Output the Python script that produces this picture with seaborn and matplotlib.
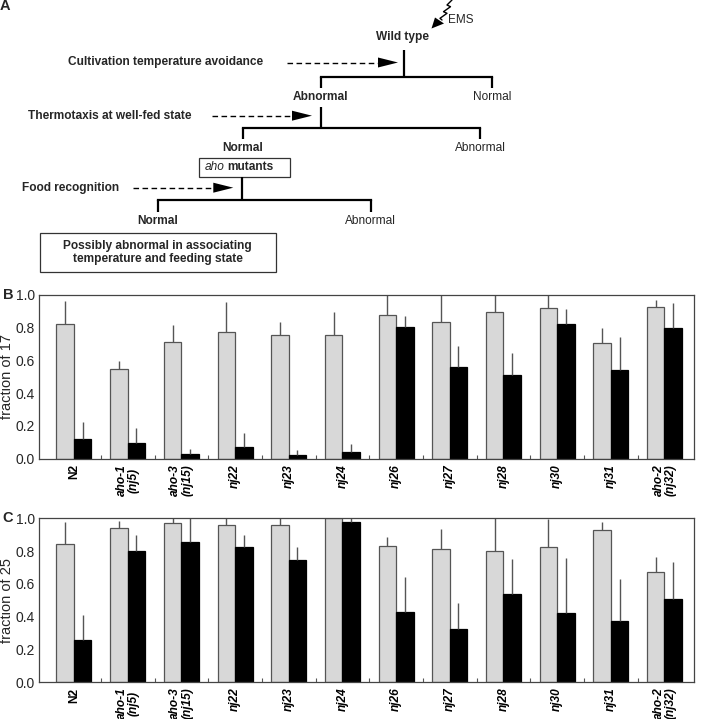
import numpy as np
import pandas as pd
import matplotlib
matplotlib.use("Agg")
import matplotlib.pyplot as plt
import seaborn as sns
from matplotlib.patches import Polygon, Rectangle

# ---------------- data ----------------
strains = ["N2", "aho-1\n(nj5)", "aho-3\n(nj15)", "nj22", "nj23", "nj24",
           "nj26", "nj27", "nj28", "nj30", "nj31", "aho-2\n(nj32)"]
conditions = ["well-fed", "starved"]

b_fed = [0.821, 0.546, 0.711, 0.776, 0.756, 0.756, 0.876, 0.833, 0.894, 0.919, 0.705, 0.927]
b_fed_err = [0.142, 0.051, 0.106, 0.179, 0.079, 0.140, 0.15, 0.18, 0.12, 0.10, 0.091, 0.044]
b_starved = [0.118, 0.094, 0.026, 0.069, 0.020, 0.039, 0.802, 0.558, 0.511, 0.821, 0.540, 0.800]
b_starved_err = [0.104, 0.091, 0.033, 0.088, 0.033, 0.053, 0.070, 0.130, 0.133, 0.093, 0.205, 0.151]

c_fed = [0.841, 0.943, 0.969, 0.961, 0.961, 1.0, 0.829, 0.811, 0.798, 0.823, 0.929, 0.670]
c_fed_err = [0.139, 0.043, 0.06, 0.05, 0.05, 0.0, 0.055, 0.122, 0.21, 0.17, 0.051, 0.096]
c_starved = [0.259, 0.802, 0.855, 0.823, 0.747, 0.980, 0.430, 0.326, 0.538, 0.420, 0.375, 0.507]
c_starved_err = [0.150, 0.096, 0.16, 0.075, 0.080, 0.03, 0.210, 0.159, 0.214, 0.340, 0.252, 0.226]

yticks = [0.0, 0.2, 0.4, 0.6, 0.8, 1.0]

# ---------------- style ----------------
sns.set_theme(style="white")
plt.rcParams["font.family"] = ["Liberation Sans", "DejaVu Sans"]

GRAY = "#d8d8d8"
EDGE = "#555555"
W, H = 702, 719

fig = plt.figure(figsize=(W / 100, H / 100), dpi=100)

# ---------------- panel A (diagram in pixel coords) ----------------
axA = fig.add_axes([0, 0, 1, 1])
axA.set_xlim(0, W)
axA.set_ylim(H, 0)
axA.axis("off")

TLW = 1.6
def tree(xc, ytop, yh, xl, xr, ydrop):
    axA.plot([xc, xc], [ytop, yh], color="black", lw=TLW, solid_capstyle="butt")
    axA.plot([xl, xr], [yh, yh], color="black", lw=TLW, solid_capstyle="projecting")
    axA.plot([xl, xl], [yh, ydrop], color="black", lw=TLW, solid_capstyle="butt")
    axA.plot([xr, xr], [yh, ydrop], color="black", lw=TLW, solid_capstyle="butt")

def dashed_arrow(x0, x1, y):
    hl, hw = 20, 5
    axA.plot([x0, x1 - hl], [y, y], color="black", lw=1.0, ls=(0, (4, 2.5)))
    axA.add_patch(Polygon([[x1 - hl, y - hw], [x1, y], [x1 - hl, y + hw]],
                          closed=True, color="black", lw=0))

FS = 8.6
axA.text(0, 6, "A", fontsize=10.5, fontweight="bold", ha="left", va="center")

# EMS lightning
zx = [452, 447, 450.5, 443.5, 447, 440, 442]
zy = [0, 5, 6.7, 11.7, 13.3, 18.3, 20]
axA.plot(zx, zy, color="black", lw=1.0)
axA.add_patch(Polygon([[431.5, 28.5], [435, 17.5], [444, 23.5]], closed=True,
                      color="black", lw=0))
axA.text(448, 20, "EMS", fontsize=8.5, ha="left", va="center")

axA.text(403, 37, "Wild type", fontsize=FS, fontweight="bold", ha="center", va="center")
tree(404, 50, 77, 321, 491.5, 88)
axA.text(166, 62.5, "Cultivation temperature avoidance", fontsize=FS, fontweight="bold",
         ha="center", va="center")
dashed_arrow(287, 398, 62.5)
axA.text(320, 97, "Abnormal", fontsize=FS, fontweight="bold", ha="center", va="center")
axA.text(492, 97, "Normal", fontsize=FS, ha="center", va="center")

tree(321, 107, 128, 242.5, 480, 139)
axA.text(109.5, 115.7, "Thermotaxis at well-fed state", fontsize=FS, fontweight="bold",
         ha="center", va="center")
dashed_arrow(212, 312, 115.7)
axA.text(242.5, 147.7, "Normal", fontsize=FS, fontweight="bold", ha="center", va="center")
axA.text(480, 147.7, "Abnormal", fontsize=FS, ha="center", va="center")

axA.add_patch(Rectangle((198.5, 157.7), 91, 19.3, fill=False, ec="#333333", lw=0.9))
axA.text(215, 166.8, "aho", fontsize=FS, style="italic", ha="center", va="center")
axA.text(227, 166.8, "mutants", fontsize=FS, fontweight="bold", ha="left", va="center")

tree(241.7, 177, 200, 157.7, 370.7, 211.7)
axA.text(70.3, 187.7, "Food recognition", fontsize=FS, fontweight="bold",
         ha="center", va="center")
dashed_arrow(132.7, 233.3, 187.7)
axA.text(157.7, 221, "Normal", fontsize=FS, fontweight="bold", ha="center", va="center")
axA.text(370.7, 221, "Abnormal", fontsize=FS, ha="center", va="center")

axA.add_patch(Rectangle((39.5, 233.3), 236, 38.4, fill=False, ec="#333333", lw=0.9))
axA.text(157.5, 252.5, "Possibly abnormal in associating\ntemperature and feeding state",
         fontsize=FS, fontweight="bold", ha="center", va="center", linespacing=1.15)

# ---------------- panels B and C ----------------
def bar_panel(rect, fed, fed_err, starved, starved_err, ylabel, letter):
    ax = fig.add_axes(rect)
    df = pd.DataFrame({
        "strain": strains * 2,
        "condition": [conditions[0]] * len(strains) + [conditions[1]] * len(strains),
        "value": list(fed) + list(starved),
    })
    sns.barplot(data=df, x="strain", y="value", hue="condition", order=strains,
                hue_order=conditions, palette=[GRAY, "black"], width=0.652,
                errorbar=None, legend=False, ax=ax, saturation=1)
    errs = list(fed_err) + list(starved_err)
    patches = ax.patches[:2 * len(strains)]
    for i, p in enumerate(patches):
        if i < len(strains):
            p.set_edgecolor(EDGE)
        else:
            p.set_edgecolor("black")
        p.set_linewidth(0.9)
        xc = p.get_x() + p.get_width() / 2
        top = p.get_height()
        ax.plot([xc, xc], [top, top + errs[i]], color=EDGE, lw=1.0, zorder=1,
                solid_capstyle="butt")
    ax.set_xlim(-0.646, 11.55)
    ax.set_ylim(0, 1.0)
    ax.set_yticks(yticks)
    ax.set_yticklabels([f"{t:.1f}" for t in yticks], fontsize=10)
    ax.set_xticks(range(len(strains)))
    ax.set_xticklabels(strains, rotation=90, fontsize=8.6, fontweight="bold",
                       multialignment="center", linespacing=1.0)
    for lab in ax.get_xticklabels():
        if lab.get_text() != "N2":
            lab.set_style("italic")
    ax.set_xticks(np.arange(0.5, len(strains) - 1, 1.0), minor=True)
    ax.tick_params(axis="x", which="major", length=0, pad=4, colors="black")
    ax.tick_params(axis="x", which="minor", direction="in", length=3, width=0.8,
                   color=EDGE, bottom=True)
    ax.tick_params(axis="y", which="major", direction="in", length=0, pad=3)
    ax.set_xlabel("")
    ax.set_ylabel(ylabel, fontsize=10.5, labelpad=1)
    for s in ax.spines.values():
        s.set_visible(True)
        s.set_color("#444444")
        s.set_linewidth(0.9)
    ax.text(-0.056, 1.0, letter, transform=ax.transAxes, fontsize=10.5,
            fontweight="bold", ha="left", va="center")
    return ax

axB = bar_panel([39.3 / W, 1 - 458.7 / H, 654.7 / W, 163.7 / H],
                b_fed, b_fed_err, b_starved, b_starved_err, "fraction of 17", "B")
axC = bar_panel([39.3 / W, 1 - 682 / H, 654.7 / W, 163.7 / H],
                c_fed, c_fed_err, c_starved, c_starved_err, "fraction of 25", "C")

fig.savefig("out.png", dpi=100)
